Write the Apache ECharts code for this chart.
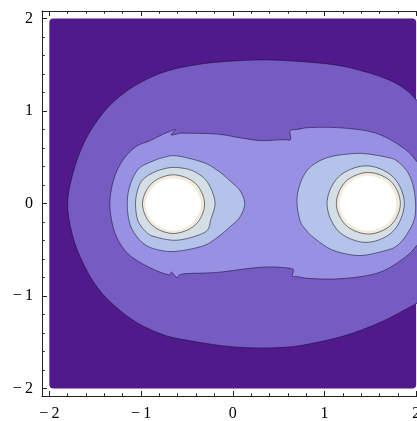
<!DOCTYPE html>
<html><head><meta charset="utf-8">
<script src="https://cdn.jsdelivr.net/npm/echarts@6/dist/echarts.min.js"></script>
<style>html,body{margin:0;padding:0;background:#fff}#c{width:417px;height:421px}</style>
</head><body><div id="c"></div>
<script>
// ---- tick values ----
const xTicks = [-2, -1, 0, 1, 2];
const yTicks = [-2, -1, 0, 1, 2];
const minorTicks = [-2, -1.8, -1.6, -1.4, -1.2, -1, -0.8, -0.6, -0.4, -0.2, 0, 0.2, 0.4, 0.6, 0.8, 1, 1.2, 1.4, 1.6, 1.8, 2];
// ---- plotted domain ----
const domainX = [-2, 2];
const domainY = [-2, 2];
// ---- contour outlines (x, y); the last points run just past the right edge ----
const contourLevel1 = [[2.00,1.12],[1.90,1.22],[1.715,1.33],[1.42,1.43],[1.06,1.505],[0.44,1.55],[0.01,1.54],[-0.36,1.505],[-0.72,1.43],[-1.02,1.30],[-1.24,1.15],[-1.42,0.97],[-1.60,0.70],[-1.73,0.37],[-1.80,0.00],[-1.74,-0.37],[-1.61,-0.69],[-1.45,-0.94],[-1.26,-1.13],[-1.04,-1.29],[-0.78,-1.41],[-0.54,-1.47],[0.01,-1.55],[0.55,-1.555],[0.92,-1.50],[1.28,-1.41],[1.64,-1.27],[1.93,-1.12],[2.00,-1.08],[2.10,-1.00],[2.10,1.02]];
const contourLevel2 = [[-1.34,0.00],[-1.32,0.17],[-1.265,0.35],[-1.175,0.50],[-1.047,0.62],[-0.90,0.68],[-0.757,0.75],[-0.706,0.769],[-0.624,0.80],[-0.673,0.742],[-0.597,0.753],[-0.54,0.76],[-0.175,0.75],[0.08,0.71],[0.30,0.68],[0.55,0.69],[0.63,0.69],[0.625,0.785],[0.70,0.80],[0.84,0.82],[1.13,0.82],[1.46,0.785],[1.68,0.71],[1.90,0.57],[2.00,0.46],[2.08,0.35],[2.08,-0.35],[2.00,-0.46],[1.90,-0.565],[1.68,-0.71],[1.46,-0.78],[1.13,-0.815],[0.84,-0.81],[0.70,-0.79],[0.65,-0.786],[0.66,-0.727],[0.625,-0.70],[0.41,-0.685],[0.19,-0.70],[-0.175,-0.745],[-0.54,-0.76],[-0.607,-0.80],[-0.667,-0.743],[-0.695,-0.77],[-0.83,-0.727],[-1.01,-0.637],[-1.156,-0.53],[-1.265,-0.367],[-1.32,-0.187]];
const contourLevel3Left = [[0.13,0.00],[0.08,0.137],[-0.03,0.245],[-0.16,0.353],[-0.32,0.443],[-0.61,0.515],[-0.757,0.497],[-0.866,0.46],[-1.01,0.39],[-1.087,0.28],[-1.136,0.137],[-1.15,-0.02],[-1.13,-0.187],[-1.076,-0.316],[-0.956,-0.446],[-0.793,-0.505],[-0.61,-0.516],[-0.32,-0.457],[-0.16,-0.36],[-0.03,-0.252],[0.08,-0.144]];
const contourLevel3Right = [[0.70,0.03],[0.734,0.21],[0.807,0.353],[0.916,0.443],[1.06,0.504],[1.243,0.533],[1.424,0.54],[1.66,0.504],[1.79,0.46],[1.92,0.317],[1.985,0.10],[1.985,-0.15],[1.90,-0.33],[1.79,-0.457],[1.66,-0.51],[1.424,-0.56],[1.243,-0.546],[1.06,-0.49],[0.88,-0.367],[0.807,-0.295],[0.734,-0.187]];
const contourLevel4Left = [[-0.665,0.389],[-0.466,0.364],[-0.32,0.28],[-0.237,0.159],[-0.193,0.00],[-0.237,-0.165],[-0.284,-0.295],[-0.466,-0.37],[-0.648,-0.397],[-0.847,-0.36],[-0.938,-0.313],[-1.033,-0.187],[-1.06,0.00],[-1.033,0.159],[-0.975,0.263],[-0.847,0.342]];
const contourLevel4Right = [[1.454,0.407],[1.748,0.288],[1.871,0.00],[1.748,-0.30],[1.454,-0.42],[1.154,-0.30],[1.028,0.00],[1.154,0.288]];
const contourLevel5Left = [[-0.648,0.31],[-0.407,0.217],[-0.307,-0.006],[-0.407,-0.23],[-0.648,-0.324],[-0.884,-0.23],[-0.984,-0.006],[-0.884,0.217]];
const contourLevel5Right = [[1.479,0.335],[1.725,0.238],[1.828,0.00],[1.725,-0.233],[1.479,-0.33],[1.232,-0.233],[1.13,0.00],[1.232,0.238]];
const contourLevel6Left = [[-0.648,0.272],[-0.438,0.19],[-0.346,-0.01],[-0.438,-0.207],[-0.648,-0.292],[-0.858,-0.207],[-0.95,-0.01],[-0.858,0.19]];
const contourLevel6Right = [[1.475,0.30],[1.694,0.213],[1.784,0.00],[1.694,-0.208],[1.475,-0.295],[1.257,-0.208],[1.167,0.00],[1.257,0.213]];

// ---- styles ----
const colors = ['#50198c', '#765bc3', '#9891e3', '#b4c3e9', '#d4dee5', '#f3ebda', '#ffffff'];
const lineColor = 'rgba(20,10,40,0.55)';
const fontFamily = '"Liberation Serif", "Times New Roman", serif';

// closed Catmull-Rom smoothing of the projected outline (render-time only)
function smoothClosed(px, steps) {
  const n = px.length, out = [];
  for (let i = 0; i < n; i++) {
    const p0 = px[(i - 1 + n) % n], p1 = px[i], p2 = px[(i + 1) % n], p3 = px[(i + 2) % n];
    for (let s = 0; s < steps; s++) {
      const t = s / steps, t2 = t * t, t3 = t2 * t;
      out.push([0, 1].map(function (k) {
        return 0.5 * ((2 * p1[k]) + (-p0[k] + p2[k]) * t + (2 * p0[k] - 5 * p1[k] + 4 * p2[k] - p3[k]) * t2 + (-p0[k] + 3 * p1[k] - 3 * p2[k] + p3[k]) * t3);
      }));
    }
  }
  return out;
}
// clip a pixel polygon to x <= xmax
function clipRight(poly, xmax) {
  const out = [];
  for (let i = 0; i < poly.length; i++) {
    const a = poly[i], b = poly[(i + 1) % poly.length];
    const ain = a[0] <= xmax, bin = b[0] <= xmax;
    if (ain) out.push(a);
    if (ain !== bin) {
      const t = (xmax - a[0]) / (b[0] - a[0]);
      out.push([xmax, a[1] + t * (b[1] - a[1])]);
    }
  }
  return out;
}

function polySeries(pts, fill, stroke, z) {
  return {
    type: 'custom', coordinateSystem: 'cartesian2d', xAxisIndex: 0, yAxisIndex: 0,
    clip: true, silent: true, z: z, data: pts, encode: { x: 0, y: 1 },
    renderItem: function (params, api) {
      if (params.dataIndex !== 0) return null;
      const px = pts.map(function (p) { return api.coord(p); });
      // cut just outside the visible canvas so the cut edge is never stroked in view
      const xmax = api.coord([domainX[1], 0])[0] + 3;
      return {
        type: 'polygon',
        shape: { points: clipRight(smoothClosed(px, 10), xmax) },
        style: { fill: fill, stroke: stroke, lineWidth: 1 }
      };
    }
  };
}

const bgSeries = {
  type: 'custom', coordinateSystem: 'cartesian2d', xAxisIndex: 0, yAxisIndex: 0,
  clip: true, silent: true, z: 1, data: [[domainX[0], domainY[1], domainX[1], domainY[0]]],
  encode: { x: [0, 2], y: [1, 3] },
  renderItem: function (params, api) {
    const a = api.coord([api.value(0), api.value(1)]);
    const b = api.coord([api.value(2), api.value(3)]);
    return { type: 'rect', shape: { x: a[0], y: a[1], width: b[0] - a[0], height: b[1] - a[1], r: 4 }, style: { fill: colors[0] } };
  }
};

const fmt = function (v) { return (v < 0 ? '\u2212\u2009' : '') + Math.abs(v); };
const frame = '#222';
const lim = 2.08;

function axisDef(kind, pos, major, labels) {
  return {
    type: 'value', position: pos, min: -lim, max: lim,
    axisLine: { show: major, onZero: false, lineStyle: { color: frame, width: 1 } },
    axisTick: { show: true, inside: true, length: major ? 5 : 2.7, customValues: major ? (kind === 'x' ? xTicks : yTicks) : minorTicks, lineStyle: { color: frame, width: 1 } },
    axisLabel: { show: labels, hideOverlap: false, customValues: kind === 'x' ? xTicks : yTicks, formatter: fmt, fontFamily: fontFamily, fontSize: 16, color: '#000', margin: kind === 'x' ? 10 : 9 },
    splitLine: { show: false }, minorTick: { show: false }
  };
}

const chart = echarts.init(document.getElementById('c'), null, { renderer: 'canvas' });
chart.setOption({
  animation: false,
  backgroundColor: '#ffffff',
  grid: { left: 42, top: 11, width: 381.5, height: 385, containLabel: false, outerBoundsMode: 'none' },
  xAxis: [axisDef('x', 'bottom', true, true), axisDef('x', 'bottom', false, false), axisDef('x', 'top', true, false), axisDef('x', 'top', false, false)],
  yAxis: [axisDef('y', 'left', true, true), axisDef('y', 'left', false, false)],
  series: [
    bgSeries,
    polySeries(contourLevel1, colors[1], lineColor, 2),
    polySeries(contourLevel2, colors[2], lineColor, 3),
    polySeries(contourLevel3Left, colors[3], lineColor, 4),
    polySeries(contourLevel3Right, colors[3], lineColor, 4),
    polySeries(contourLevel4Left, colors[4], lineColor, 5),
    polySeries(contourLevel4Right, colors[4], lineColor, 5),
    polySeries(contourLevel5Left, colors[5], lineColor, 6),
    polySeries(contourLevel5Right, colors[5], lineColor, 6),
    polySeries(contourLevel6Left, colors[6], null, 7),
    polySeries(contourLevel6Right, colors[6], null, 7)
  ]
});
</script></body></html>
